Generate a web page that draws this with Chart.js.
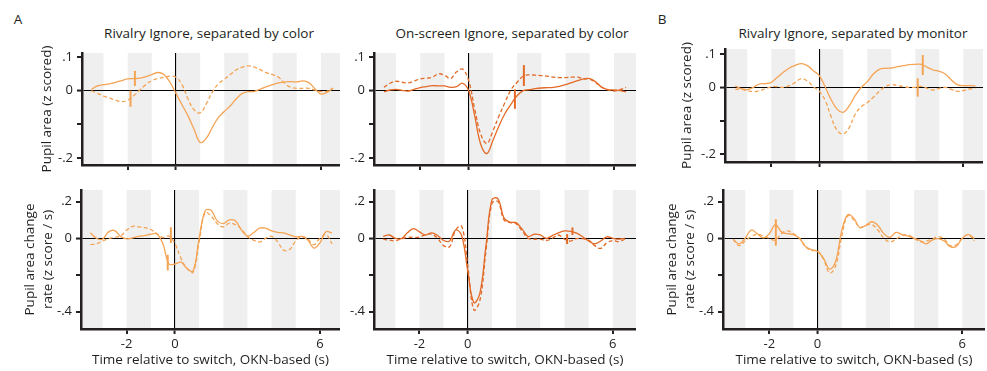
<!DOCTYPE html>
<html>
<head>
<meta charset="utf-8">
<script src="https://cdn.jsdelivr.net/npm/chart.js@4/dist/chart.umd.min.js"></script>
<style>
  html, body { margin: 0; padding: 0; background: #fff; }
  body { width: 987px; height: 371px; position: relative; overflow: hidden;
         font-family: 'Open Sans', sans-serif; color: #231f20; }
  canvas { position: absolute; }
  .lbl { position: absolute; font-size: 13.5px; white-space: nowrap; line-height: 1;
         transform: translate(-50%, -50%); }
</style>
</head>
<body>
<div class="lbl" style="left:18px;top:20px">A</div>
<div class="lbl" style="left:662px;top:20px">B</div>
<div class="lbl" style="left:209px;top:34px">Rivalry Ignore, separated by color</div>
<div class="lbl" style="left:512px;top:34px">On-screen Ignore, separated by color</div>
<div class="lbl" style="left:853px;top:34px">Rivalry Ignore, separated by monitor</div>

<canvas id="a1Top"></canvas>
<canvas id="a2Top"></canvas>
<canvas id="bTop"></canvas>
<canvas id="a1Bot"></canvas>
<canvas id="a2Bot"></canvas>
<canvas id="bBot"></canvas>

<script>
// Time relative to the OKN-based switch (s)
const time = [-3.5, -3.25, -3.0, -2.75, -2.5, -2.25, -2.0, -1.75, -1.5, -1.25,
              -1.0, -0.75, -0.5, -0.25, 0.0, 0.25, 0.5, 0.75, 1.0, 1.25,
              1.5, 1.75, 2.0, 2.25, 2.5, 2.75, 3.0, 3.25, 3.5, 3.75,
              4.0, 4.25, 4.5, 4.75, 5.0, 5.25, 5.5, 5.75, 6.0, 6.25, 6.5];

// Pupil area (z scored)
const rivColorPupilSolid = [0.004, 0.014, 0.018, 0.020, 0.025, 0.030, 0.035, 0.036, 0.037, 0.042,
  0.048, 0.054, 0.048, 0.025, -0.008, -0.042, -0.075, -0.115, -0.154, -0.142,
  -0.110, -0.080, -0.062, -0.045, -0.024, -0.008, -0.003, -0.002, 0.005, 0.012,
  0.018, 0.023, 0.026, 0.027, 0.026, 0.029, 0.024, 0.006, -0.010, -0.005, 0.007];
const rivColorPupilDashed = [0.000, -0.008, -0.016, -0.022, -0.028, -0.033, -0.028, -0.015, 0.002, 0.018,
  0.030, 0.036, 0.040, 0.043, 0.040, 0.018, -0.025, -0.057, -0.066, -0.040,
  -0.005, 0.020, 0.034, 0.048, 0.062, 0.070, 0.074, 0.070, 0.062, 0.053,
  0.048, 0.040, 0.022, 0.010, 0.007, 0.007, 0.007, 0.002, -0.003, -0.002, 0.008];
const scrColorPupilSolid = [-0.003, 0.002, 0.004, 0.001, -0.001, 0.004, 0.009, 0.012, 0.015, 0.014,
  0.014, 0.010, 0.012, 0.022, 0.000, -0.075, -0.160, -0.187, -0.148, -0.105,
  -0.068, -0.040, -0.015, 0.000, 0.003, 0.006, 0.008, 0.009, 0.010, 0.013,
  0.018, 0.024, 0.030, 0.035, 0.036, 0.026, 0.010, 0.003, 0.002, 0.000, -0.003];
const scrColorPupilDashed = [0.010, 0.022, 0.028, 0.025, 0.023, 0.029, 0.035, 0.037, 0.040, 0.050,
  0.046, 0.036, 0.056, 0.064, 0.030, -0.055, -0.130, -0.157, -0.120, -0.075,
  -0.035, 0.003, 0.025, 0.043, 0.047, 0.046, 0.045, 0.043, 0.040, 0.039,
  0.039, 0.040, 0.040, 0.035, 0.034, 0.024, 0.010, 0.002, -0.001, 0.003, 0.010];
const rivMonitorPupilSolid = [0.004, -0.004, -0.007, 0.000, 0.010, 0.011, 0.015, 0.030, 0.045, 0.058,
  0.066, 0.071, 0.065, 0.050, 0.035, 0.000, -0.038, -0.066, -0.075, -0.055,
  -0.024, 0.000, 0.017, 0.040, 0.054, 0.057, 0.058, 0.062, 0.065, 0.068,
  0.069, 0.069, 0.060, 0.052, 0.048, 0.040, 0.022, 0.008, 0.005, 0.005, 0.004];
const rivMonitorPupilDashed = [-0.006, -0.006, -0.010, -0.013, -0.010, -0.005, 0.002, 0.002, 0.000, 0.005,
  0.015, 0.026, 0.019, 0.002, -0.012, -0.040, -0.090, -0.130, -0.140, -0.120,
  -0.080, -0.058, -0.046, -0.030, -0.012, 0.002, 0.008, 0.006, 0.002, 0.000,
  0.000, 0.003, -0.003, -0.008, -0.003, 0.000, -0.006, -0.012, -0.010, -0.005, -0.003];

// Pupil area change rate (z score / s)
const rivColorRateSolid = [0.030, 0.000, -0.005, 0.035, 0.042, 0.010, -0.003, 0.002, 0.010, 0.015,
  0.022, 0.024, -0.030, -0.140, -0.140, -0.130, -0.165, -0.178, 0.000, 0.150,
  0.152, 0.095, 0.080, 0.100, 0.095, 0.045, 0.012, 0.030, 0.055, 0.055,
  0.040, 0.032, 0.029, 0.018, 0.008, 0.010, -0.010, -0.053, -0.025, 0.035, 0.030];
const rivColorRateDashed = [-0.035, -0.030, -0.015, -0.002, 0.006, 0.012, 0.045, 0.065, 0.062, 0.058,
  0.048, 0.025, 0.004, 0.012, -0.030, -0.110, -0.165, -0.185, -0.020, 0.140,
  0.120, 0.080, 0.062, 0.082, 0.074, 0.050, 0.010, -0.010, -0.020, 0.000,
  0.011, -0.020, -0.065, -0.060, -0.015, 0.010, -0.005, -0.035, 0.000, 0.020, -0.030];
const scrColorRateSolid = [0.010, 0.018, 0.000, -0.002, 0.030, 0.053, 0.035, 0.018, 0.029, 0.015,
  -0.012, -0.015, 0.045, 0.014, -0.180, -0.350, -0.300, -0.044, 0.210, 0.215,
  0.110, 0.088, 0.085, 0.050, 0.010, 0.022, 0.018, 0.000, 0.015, 0.030,
  0.040, 0.038, 0.028, 0.008, -0.015, -0.030, -0.015, 0.008, 0.000, -0.005, 0.000];
const scrColorRateDashed = [-0.005, -0.010, -0.013, -0.004, 0.005, 0.005, 0.006, 0.020, 0.023, 0.000,
  -0.040, -0.045, 0.045, 0.065, -0.150, -0.390, -0.340, -0.070, 0.190, 0.200,
  0.100, 0.085, 0.080, 0.040, 0.000, -0.005, -0.005, -0.012, 0.000, 0.018,
  -0.005, -0.015, -0.002, -0.002, -0.010, -0.040, -0.055, -0.025, -0.012, -0.018, -0.005];
const rivMonitorRateSolid = [-0.005, -0.030, 0.000, 0.045, 0.025, 0.002, 0.025, 0.075, 0.035, 0.025,
  0.020, 0.000, -0.045, -0.062, -0.072, -0.110, -0.168, -0.125, 0.040, 0.128,
  0.110, 0.058, 0.070, 0.090, 0.070, 0.025, 0.005, 0.032, 0.020, 0.012,
  0.000, -0.012, -0.030, -0.010, -0.002, -0.015, -0.045, -0.045, 0.000, 0.020, -0.002];
const rivMonitorRateDashed = [-0.005, -0.040, -0.015, 0.010, 0.022, 0.012, 0.000, -0.010, 0.025, 0.040,
  0.025, 0.000, -0.045, -0.067, -0.067, -0.115, -0.188, -0.150, 0.010, 0.122,
  0.100, 0.060, 0.070, 0.074, 0.045, 0.000, -0.020, -0.005, 0.015, 0.018,
  0.000, -0.018, -0.015, -0.005, 0.009, -0.005, -0.040, -0.035, 0.000, 0.020, -0.015];

// Switch-time markers per panel: [solid, dashed] time, lower and upper value
const rivColorPupilMarkT = [-1.70, -1.88], rivColorPupilMarkLo = [0.014, -0.048], rivColorPupilMarkHi = [0.059, 0.000];
const scrColorPupilMarkT = [1.91, 2.28],   scrColorPupilMarkLo = [-0.054, 0.014], scrColorPupilMarkHi = [0.004, 0.076];
const rivMonitorPupilMarkT = [4.31, 4.10], rivMonitorPupilMarkLo = [0.037, -0.028], rivMonitorPupilMarkHi = [0.097, 0.027];
const rivColorRateMarkT = [-0.30, -0.17],  rivColorRateMarkLo = [-0.175, -0.026], rivColorRateMarkHi = [-0.090, 0.060];
const scrColorRateMarkT = [4.33, 4.11],    scrColorRateMarkLo = [0.018, -0.031], scrColorRateMarkHi = [0.059, 0.023];
const rivMonitorRateMarkT = [-1.73, -1.73], rivMonitorRateMarkLo = [0.040, -0.040], rivMonitorRateMarkHi = [0.104, 0.040];

// Axis ticks
const xTickValues = [-2, 0, 6];
const xTickLabels = ['-2', '0', '6'];
const pupilTickValues = [0.1, 0, -0.1, -0.2];
const pupilTickLabels = ['.1', '0', '', '-.2'];
const rateTickValues = [0.2, 0, -0.2, -0.4];
const rateTickLabels = ['.2', '0', '', '-.4'];

// Alternating shaded one-second bands
const stripeStarts = [-4, -2, 0, 2, 4, 6];
const stripeWidth = 1;

const LIGHT = '#f5a455';
const DARK = '#e36a27';
const INK = '#231f20';
const FONT = 'Open Sans';

const stripePlugin = {
  id: 'stripes',
  beforeDraw(chart) {
    const { ctx, chartArea: a, scales: { x } } = chart;
    ctx.save();
    ctx.beginPath();
    ctx.rect(a.left, a.top, a.right - a.left, a.bottom - a.top);
    ctx.clip();
    ctx.fillStyle = '#efefef';
    stripeStarts.forEach(s => {
      const x0 = x.getPixelForValue(s);
      const x1 = x.getPixelForValue(s + stripeWidth);
      ctx.fillRect(x0, a.top, x1 - x0, a.bottom - a.top);
    });
    ctx.restore();
  }
};

function curve(values, color, dashed) {
  return {
    data: values.map((v, i) => ({ x: time[i], y: v })),
    borderColor: color, borderWidth: 1.3,
    borderDash: dashed ? [4, 2.5] : [],
    pointRadius: 0, fill: false,
    tension: 0.4
  };
}

function marks(ts, los, his, color) {
  return ts.map((t, i) => ({
    data: [{ x: t, y: los[i] }, { x: t, y: his[i] }],
    borderColor: color, borderWidth: 2, pointRadius: 0, fill: false,
    tension: 0, borderCapStyle: 'butt'
  }));
}

function zeroGrid(ticksColor) {
  return {
    drawOnChartArea: true, drawTicks: true,
    color: c => (c.tick && c.tick.value === 0) ? '#000' : 'rgba(0,0,0,0)',
    lineWidth: c => (c.tick && c.tick.value === 0) ? 1.1 : 0,
    tickColor: ticksColor, tickWidth: 2, tickLength: 5
  };
}

function panel(id, g) {
  const el = document.getElementById(id);
  const w = g.yW + (g.R - g.L) + g.pr;
  const h = g.pt + (g.B - g.T) + g.xH;
  el.width = w; el.height = h;
  el.style.width = w + 'px'; el.style.height = h + 'px';
  el.style.left = (g.L - g.yW) + 'px';
  el.style.top = (g.T - g.pt) + 'px';

  const datasets = [
    curve(g.solid, g.color, false),
    curve(g.dashed, g.color, true),
    ...marks(g.markT, g.markLo, g.markHi, g.color)
  ];

  new Chart(el, {
    type: 'line',
    data: { datasets },
    plugins: [stripePlugin],
    options: {
      responsive: false, animation: false, devicePixelRatio: 1,
      layout: { padding: { top: g.pt, right: g.pr, bottom: 0, left: 0 } },
      plugins: { legend: { display: false }, tooltip: { enabled: false } },
      scales: {
        x: {
          type: 'linear', position: 'bottom', min: g.xMin, max: g.xMax,
          afterBuildTicks: s => { s.ticks = xTickValues.map(v => ({ value: v })); },
          afterFit: s => { s.height = g.xH; s.paddingLeft = s.paddingRight = s.paddingTop = s.paddingBottom = 0; },
          ticks: {
            autoSkip: false, maxRotation: 0, padding: 2, color: INK,
            font: { family: FONT, size: 13, lineHeight: 1.2 },
            callback: (v, i) => g.xLabels ? xTickLabels[i] : ''
          },
          grid: zeroGrid(INK),
          border: { display: true, color: INK, width: 2.5 },
          title: {
            display: !!g.xTitle, text: g.xTitle || '', color: INK,
            font: { family: FONT, size: 13.5, lineHeight: 1.2 },
            padding: { top: 0, bottom: 3 }
          }
        },
        y: {
          type: 'linear', position: 'left', min: g.yMin, max: g.yMax,
          afterBuildTicks: s => { s.ticks = g.yTicks.map(v => ({ value: v })); },
          afterFit: s => { s.width = g.yW; s.paddingLeft = s.paddingRight = s.paddingTop = s.paddingBottom = 0; },
          ticks: {
            autoSkip: false, padding: 4, color: INK,
            font: { family: FONT, size: 13, lineHeight: 1.2 },
            callback: (v, i) => g.yLabels[i]
          },
          grid: zeroGrid(INK),
          border: { display: true, color: INK, width: 2.5 },
          title: {
            display: !!g.yTitle, text: g.yTitle || '', color: INK,
            font: { family: FONT, size: 13.5, lineHeight: g.yTitleLH || 1.2 },
            padding: { top: g.yTitlePad || 0, bottom: 0 }
          }
        }
      }
    }
  });
}

const pupilRange = { yMin: -0.221, yMax: 0.112, yTicks: pupilTickValues, yLabels: pupilTickLabels };
const rateRange = { yMin: -0.494, yMax: 0.263, yTicks: rateTickValues, yLabels: rateTickLabels };

panel('a1Top', Object.assign({}, pupilRange, {
  L: 82, R: 340, T: 53, B: 165, yW: 46, pt: 8, pr: 4, xH: 8, xMin: -3.89, xMax: 6.79,
  color: LIGHT, solid: rivColorPupilSolid, dashed: rivColorPupilDashed,
  markT: rivColorPupilMarkT, markLo: rivColorPupilMarkLo, markHi: rivColorPupilMarkHi,
  yTitle: 'Pupil area (z scored)', yTitlePad: 3, xLabels: false
}));
panel('a2Top', Object.assign({}, pupilRange, {
  L: 374, R: 636, T: 53, B: 165, yW: 29, pt: 8, pr: 4, xH: 8, xMin: -3.91, xMax: 6.91,
  color: DARK, solid: scrColorPupilSolid, dashed: scrColorPupilDashed,
  markT: scrColorPupilMarkT, markLo: scrColorPupilMarkLo, markHi: scrColorPupilMarkHi,
  xLabels: false
}));
panel('bTop', Object.assign({}, pupilRange, {
  yMin: -0.224, yMax: 0.115,
  L: 725, R: 983, T: 49, B: 162, yW: 50, pt: 8, pr: 4, xH: 8, xMin: -3.93, xMax: 6.82,
  color: LIGHT, solid: rivMonitorPupilSolid, dashed: rivMonitorPupilDashed,
  markT: rivMonitorPupilMarkT, markLo: rivMonitorPupilMarkLo, markHi: rivMonitorPupilMarkHi,
  yTitle: 'Pupil area (z scored)', yTitlePad: 4, xLabels: false
}));

const xTitleText = 'Time relative to switch, OKN-based (s)';
panel('a1Bot', Object.assign({}, rateRange, {
  L: 81, R: 340, T: 190, B: 329, yW: 66, pt: 10, pr: 4, xH: 42, xMin: -3.89, xMax: 6.83,
  color: LIGHT, solid: rivColorRateSolid, dashed: rivColorRateDashed,
  markT: rivColorRateMarkT, markLo: rivColorRateMarkLo, markHi: rivColorRateMarkHi,
  yTitle: ['Pupil area change', 'rate (z score / s)'], yTitleLH: 1.35, yTitlePad: 6,
  xLabels: true, xTitle: xTitleText
}));
panel('a2Bot', Object.assign({}, rateRange, {
  L: 374, R: 636, T: 190, B: 329, yW: 29, pt: 10, pr: 4, xH: 42, xMin: -3.88, xMax: 6.96,
  color: DARK, solid: scrColorRateSolid, dashed: scrColorRateDashed,
  markT: scrColorRateMarkT, markLo: scrColorRateMarkLo, markHi: scrColorRateMarkHi,
  xLabels: true, xTitle: xTitleText
}));
panel('bBot', Object.assign({}, rateRange, {
  L: 723, R: 985, T: 190, B: 329, yW: 68, pt: 10, pr: 2, xH: 42, xMin: -3.92, xMax: 6.94,
  color: LIGHT, solid: rivMonitorRateSolid, dashed: rivMonitorRateDashed,
  markT: rivMonitorRateMarkT, markLo: rivMonitorRateMarkLo, markHi: rivMonitorRateMarkHi,
  yTitle: ['Pupil area change', 'rate (z score / s)'], yTitleLH: 1.35, yTitlePad: 8,
  xLabels: true, xTitle: xTitleText
}));
</script>
</body>
</html>
